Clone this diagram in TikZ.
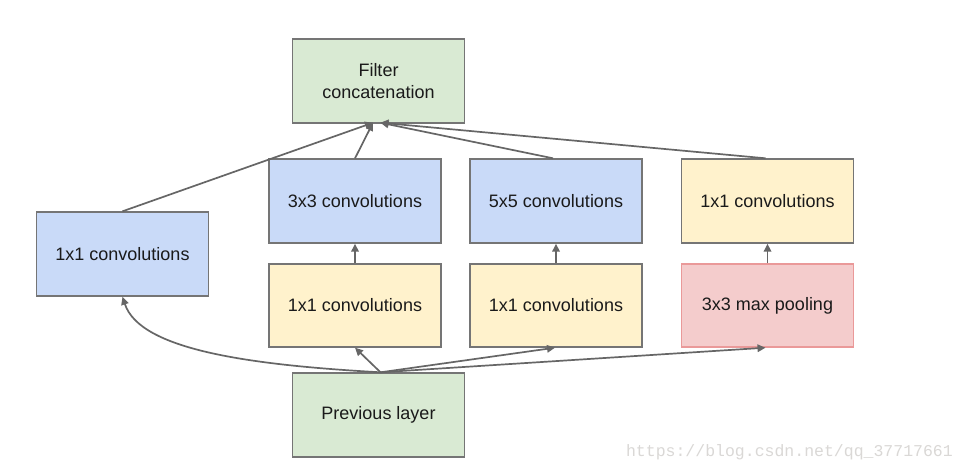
\documentclass[tikz,border=0pt]{standalone}
\usepackage{fontspec}
\setmainfont{Liberation Sans}
\newfontfamily\wmfont{Liberation Mono}
\usetikzlibrary{arrows.meta}
\definecolor{bordergray}{HTML}{757575}
\definecolor{arrowgray}{HTML}{666666}
\definecolor{fillgreen}{HTML}{D9EAD3}
\definecolor{fillblue}{HTML}{C9DAF8}
\definecolor{fillyellow}{HTML}{FFF2CC}
\definecolor{fillpink}{HTML}{F4CCCC}
\definecolor{borderpink}{HTML}{EA9999}
\definecolor{textdark}{HTML}{1A1A1A}
\definecolor{wmgray}{HTML}{DAD8D6}
\tikzset{
  layerbox/.style={draw=bordergray, line width=1.4pt, minimum width=172pt, minimum height=84pt,
    inner sep=0pt, align=center, text=textdark, font=\fontsize{18}{22}\selectfont},
  greenbox/.style={layerbox, fill=fillgreen},
  bluebox/.style={layerbox, fill=fillblue},
  yellowbox/.style={layerbox, fill=fillyellow},
  pinkbox/.style={layerbox, fill=fillpink, draw=borderpink},
  conn/.style={draw=arrowgray, line width=1.7pt, -{Triangle[length=8pt,width=7.5pt]}},
}
\begin{document}
\begin{tikzpicture}[x=1pt,y=-1pt]
\useasboundingbox (0,0) rectangle (965,472);
\fill[white] (0,0) rectangle (965,472);
% nodes
\node[greenbox] (concat) at (378.5,81) {Filter\\concatenation};
\node[bluebox] (c1) at (122.5,254) {1x1 convolutions};
\node[bluebox] (c3) at (355,201) {3x3 convolutions};
\node[bluebox] (c5) at (556,201) {5x5 convolutions};
\node[yellowbox] (r1) at (767.5,201) {1x1 convolutions};
\node[yellowbox, minimum height=83pt] (y3) at (355,305.5) {1x1 convolutions};
\node[yellowbox, minimum height=83pt] (y5) at (556,305.5) {1x1 convolutions};
\node[pinkbox, minimum height=83pt] (pool) at (767.5,305.5) {3x3 max pooling};
\node[greenbox] (prev) at (378.5,415) {Previous layer};
% watermark
\node[text=wmgray, font=\wmfont\fontsize{16.5}{18}\selectfont, anchor=east, inner sep=0pt] (wm) at (953,452) {https://blog.csdn.net/qq\_37717661};
% helper coordinates
\coordinate (inL) at ([xshift=-5.5pt,yshift=1pt]concat.south);
\coordinate (inR) at ([xshift=2pt,yshift=1pt]concat.south);
\coordinate (src) at ([xshift=2pt]prev.north);
% top connectors
\draw[conn] (c1.north) -- (inL);
\draw[conn] (c3.north) -- (inL);
\draw[conn] ([xshift=-3pt]c5.north) -- (inR);
\draw[conn] ([xshift=-2pt]r1.north) -- (inR);
% vertical connectors
\draw[conn] (y3.north) -- (c3.south);
\draw[conn] (y5.north) -- (c5.south);
\draw[conn] (pool.north) -- (r1.south);
% bottom connectors
\draw[conn] (src) .. controls (250,365) and (140,350) .. (c1.south);
\draw[conn] (src) -- (y3.south);
\draw[conn] (src) -- ([xshift=-1pt]y5.south);
\draw[conn] (src) -- ([xshift=-2pt]pool.south);
\end{tikzpicture}
\end{document}
